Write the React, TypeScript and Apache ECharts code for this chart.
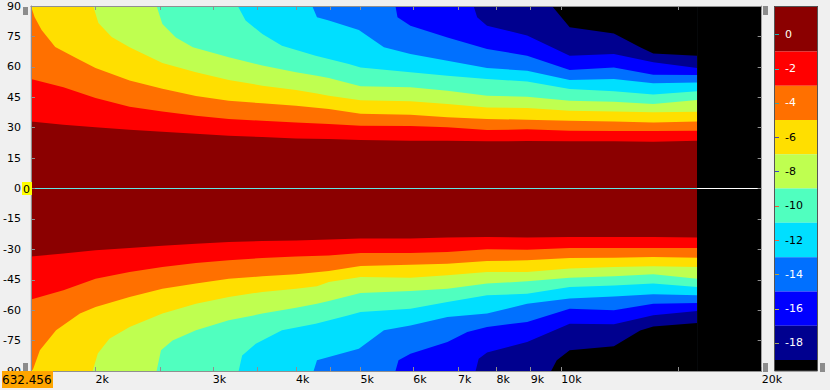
import React, { useEffect, useRef } from 'react';
import * as echarts from 'echarts';

const FONT = '"DejaVu Sans", sans-serif';

// frequency axis (Hz)
const freqMin = 1600;
const freqMax = 20000;
const dataFreqStart = 1600;
const dataFreqEnd = 16000;
const xLabelValues = [2000, 3000, 4000, 5000, 6000, 7000, 8000, 9000, 10000, 20000];
const xTickValues = [2000, 2500, 3000, 3500, 4000, 4500, 5000, 6000, 7000, 8000, 9000, 10000, 15000, 20000];

// colour scale (dB)
const levels = [0, -2, -4, -6, -8, -10, -12, -14, -16, -18];
const scaleTop = 1.65;
const scaleBottom = -19.64;

// contour edges: [frequency Hz, angle deg] (upper half)
const upperEdge2 = [[1600, 33.1], [1790, 31.5], [2000, 30.2], [2250, 29.0], [2520, 28.0], [2830, 27.0], [3170, 26.0], [3560, 25.4], [4000, 24.7], [4480, 24.4], [5000, 23.9], [5940, 23.6], [6750, 23.6], [7740, 23.3], [8890, 23.4], [10300, 23.3], [12000, 23.3], [13750, 23.1], [16000, 23.6]];
const upperEdge4 = [[1600, 54.0], [1790, 49.9], [2000, 44.6], [2250, 40.3], [2520, 38.0], [2830, 35.9], [3170, 34.3], [3560, 33.4], [4000, 32.6], [4480, 31.8], [5000, 31.0], [5940, 30.8], [6750, 30.2], [7740, 28.8], [8890, 29.2], [10300, 28.5], [12000, 28.4], [13750, 28.4], [16000, 28.5]];
const upperEdge6 = [[1600, 90], [1620, 84.6], [1660, 78.2], [1740, 69.8], [1870, 64.4], [2000, 59.4], [2250, 53.3], [2520, 49.2], [2830, 45.6], [3170, 43.3], [3560, 42.0], [4000, 40.8], [4480, 39.2], [5000, 36.9], [5940, 36.4], [6750, 35.1], [7740, 34.3], [8890, 33.9], [10300, 33.4], [12000, 33.0], [13750, 32.6], [16000, 33.1]];
const upperEdge8 = [[1984, 90], [2020, 81.6], [2115, 74.7], [2250, 69.6], [2520, 61.9], [2830, 57.3], [3170, 53.5], [3560, 50.7], [4000, 48.6], [4300, 46.9], [4480, 45.8], [5000, 43.5], [5940, 43.0], [6750, 41.7], [7740, 40.0], [8890, 39.7], [10300, 38.4], [12000, 38.0], [13750, 37.6], [16000, 37.9]];
const upperEdge10 = [[2470, 90], [2520, 81.1], [2640, 74.5], [2800, 69.6], [3170, 64.7], [3560, 60.6], [4000, 57.3], [4300, 55.6], [4480, 54.5], [5000, 50.4], [5940, 49.9], [6750, 48.2], [7740, 45.8], [8890, 45.3], [10300, 43.3], [12000, 42.8], [13750, 41.7], [16000, 43.6]];
const upperEdge12 = [[3270, 90], [3360, 82.8], [3560, 76.2], [3810, 70.4], [4280, 65.5], [4800, 61.4], [5000, 59.7], [5940, 57.3], [6750, 55.6], [7740, 54.0], [8890, 52.8], [10300, 49.1], [12000, 47.9], [13750, 46.3], [16000, 47.9]];
const upperEdge14 = [[4230, 90], [4300, 84.4], [4480, 82.8], [4970, 78.2], [5420, 69.6], [5940, 66.3], [6750, 63.0], [7740, 59.4], [8890, 58.1], [10300, 53.5], [12000, 54.0], [13750, 51.9], [16000, 52.3]];
const upperEdge16 = [[5640, 90], [5680, 84.4], [5940, 80.3], [6750, 74.5], [7740, 68.8], [8890, 65.5], [10300, 58.4], [12000, 59.7], [13750, 56.1], [16000, 56.0]];
const upperEdge18 = [[7390, 90], [7480, 84.4], [7740, 80.3], [8890, 75.4], [10300, 65.5], [12000, 66.3], [13750, 62.2], [16000, 59.4]];
const upperEdge20 = [[9690, 90], [10300, 79.5], [12000, 76.5], [13140, 69.6], [13750, 66.6], [16000, 65.5]];

// contour edges (lower half)
const lowerEdge2 = [[1600, -33.5], [1790, -32.1], [2000, -30.5], [2250, -29.3], [2520, -28.2], [2830, -27.2], [3170, -26.4], [3560, -25.9], [4000, -25.6], [4480, -25.2], [5000, -24.7], [5940, -24.7], [6750, -24.2], [7740, -23.9], [8890, -24.2], [10300, -23.9], [12000, -23.9], [13750, -23.9], [16000, -24.2]];
const lowerEdge4 = [[1600, -54.8], [1790, -50.2], [2000, -44.5], [2250, -41.2], [2520, -38.7], [2830, -36.7], [3170, -35.4], [3560, -34.3], [4000, -33.5], [4480, -33.0], [5000, -31.8], [5940, -31.8], [6750, -31.3], [7740, -30.0], [8890, -30.2], [10300, -29.3], [12000, -29.3], [13750, -29.3], [16000, -29.3]];
const lowerEdge6 = [[1600, -90], [1611, -89.3], [1650, -79.8], [1745, -69.9], [1895, -61.7], [2000, -58.4], [2250, -53.5], [2520, -49.4], [2830, -46.9], [3170, -44.5], [3560, -43.3], [4000, -42.3], [4480, -40.7], [5000, -38.2], [5940, -37.6], [6750, -37.1], [7740, -35.8], [8890, -35.4], [10300, -34.3], [12000, -34.1], [13750, -33.8], [16000, -34.1]];
const lowerEdge8 = [[1980, -90], [2016, -81.4], [2098, -74.1], [2250, -68.3], [2520, -61.7], [2830, -56.8], [3170, -53.5], [3560, -51.0], [4000, -49.4], [4300, -48.2], [4480, -46.1], [5000, -43.6], [5940, -44.0], [6750, -42.8], [7740, -41.2], [8890, -41.2], [10300, -39.5], [12000, -38.7], [13750, -38.4], [16000, -38.7]];
const lowerEdge10 = [[2470, -90], [2508, -79.8], [2610, -74.9], [2830, -69.9], [3170, -65.0], [3560, -61.7], [4000, -58.8], [4300, -56.8], [4480, -55.5], [5000, -51.5], [5940, -50.5], [6750, -49.4], [7740, -46.9], [8890, -45.8], [10300, -44.0], [12000, -43.3], [13750, -42.3], [16000, -44.5]];
const lowerEdge12 = [[3280, -90], [3320, -82.3], [3480, -76.5], [3810, -69.9], [4280, -66.7], [4800, -62.5], [5000, -60.9], [5940, -59.3], [6750, -56.0], [7740, -52.7], [8890, -51.9], [10300, -48.6], [12000, -47.8], [13750, -46.9], [16000, -48.6]];
const lowerEdge14 = [[4250, -90], [4300, -84.7], [4970, -79.0], [5420, -69.9], [5940, -67.5], [6750, -63.4], [7740, -61.7], [8890, -56.8], [10300, -54.3], [12000, -53.2], [13750, -52.2], [16000, -52.7]];
const lowerEdge16 = [[5640, -90], [5700, -84.7], [5940, -81.5], [6750, -75.7], [7230, -70.8], [7740, -68.3], [8890, -65.8], [10300, -59.3], [12000, -60.1], [13750, -56.8], [16000, -56.5]];
const lowerEdge18 = [[7440, -90], [7520, -83.9], [7740, -80.9], [8890, -75.7], [10300, -66.7], [12000, -67.0], [13750, -62.5], [16000, -60.4]];
const lowerEdge20 = [[9660, -90], [9850, -84.7], [10300, -79.8], [12000, -77.8], [13140, -70.0], [13750, -68.0], [16000, -66.3]];

const upperEdges = [upperEdge2, upperEdge4, upperEdge6, upperEdge8, upperEdge10, upperEdge12, upperEdge14, upperEdge16, upperEdge18, upperEdge20];
const lowerEdges = [lowerEdge2, lowerEdge4, lowerEdge6, lowerEdge8, lowerEdge10, lowerEdge12, lowerEdge14, lowerEdge16, lowerEdge18, lowerEdge20];

const bandColors = ['#8b0000', '#ff0000', '#ff7000', '#ffdf00', '#bfff50', '#50ffbf', '#00dfff', '#0070ff', '#0000ff', '#00008f', '#000000'];
const tickColors = ['#20b0b0', '#20c0c0', '#40a0a0', '#4848b0', '#4040d0', '#ff5030', '#ff6030', '#c0a030', '#c0c040', '#a0a060'];
const labelColors = ['#fffff0', '#ffffff', '#ffffff', '#000000', '#000000', '#000000', '#000000', '#ffffff', '#ffffff', '#ffffff'];

const AXIS_GRAY = '#909090';

export default function App() {
  const ref = useRef<HTMLDivElement>(null);

  useEffect(() => {
    document.body.style.margin = '0';
    document.body.style.background = '#f0f0f0';
    const chart = echarts.init(ref.current as HTMLDivElement, undefined, { renderer: 'svg' });

    // each layer: an edge line filled up (to +90) or down (to -90)
    const layers: { edge: number[][]; to: number; color: string }[] = [];
    layers.push({ edge: [[dataFreqStart, -90], [dataFreqEnd, -90]], to: 90, color: bandColors[0] });
    for (let k = 0; k < upperEdges.length; k++) {
      layers.push({ edge: upperEdges[k], to: 90, color: bandColors[k + 1] });
      layers.push({ edge: lowerEdges[k], to: -90, color: bandColors[k + 1] });
    }
    // region without data
    layers.push({ edge: [[dataFreqEnd, -90], [freqMax, -90]], to: 90, color: '#000000' });

    const series: any[] = [];
    series.push({
      type: 'custom',
      xAxisIndex: 0,
      yAxisIndex: 0,
      silent: true,
      clip: true,
      z: 2,
      encode: { x: 0, y: 1 },
      data: layers.map((l) => [l.edge[0][0], l.edge[0][1]]),
      renderItem: (params: any, api: any) => {
        const layer = layers[params.dataIndex];
        const pts = layer.edge.map((p) => api.coord(p));
        const f0 = layer.edge[0][0];
        const f1 = layer.edge[layer.edge.length - 1][0];
        pts.push(api.coord([f1, layer.to]));
        pts.push(api.coord([f0, layer.to]));
        return { type: 'polygon', shape: { points: pts }, style: { fill: layer.color, stroke: 'none', lineWidth: 0 } };
      },
    });

    series.push({
      type: 'line', xAxisIndex: 0, yAxisIndex: 0, symbol: 'none', silent: true,
      data: [[dataFreqStart, 0], [dataFreqEnd, 0]],
      lineStyle: { color: '#60e6e6', width: 1 }, z: 3,
    });
    series.push({
      type: 'line', xAxisIndex: 0, yAxisIndex: 0, symbol: 'none', silent: true,
      data: [[dataFreqEnd, 0], [freqMax, 0]],
      lineStyle: { color: '#ffffff', width: 1 }, z: 3,
    });

    const barData: number[][] = levels.map((l, i) => [i === 0 ? scaleTop : l + 1, l - 1]);
    barData.push([levels[levels.length - 1] - 1, scaleBottom]);

    series.push({
      type: 'custom',
      xAxisIndex: 2,
      yAxisIndex: 2,
      silent: true,
      data: barData,
      renderItem: (params: any, api: any) => {
        const i = params.dataIndex;
        const hi = api.value(0);
        const lo = api.value(1);
        const tl = api.coord([0, hi]);
        const br = api.coord([1, lo]);
        const children: any[] = [
          { type: 'rect', shape: { x: tl[0], y: tl[1], width: br[0] - tl[0], height: br[1] - tl[1] }, style: { fill: bandColors[i] } },
        ];
        if (i < levels.length) {
          const c = api.coord([0, levels[i]]);
          const yy = Math.round(c[1]) + 0.5;
          children.push({ type: 'line', shape: { x1: c[0] + 1, y1: yy, x2: c[0] + 5, y2: yy }, style: { stroke: tickColors[i], lineWidth: 1 } });
          children.push({
            type: 'text', x: c[0] + 11, y: c[1],
            style: { text: String(levels[i]), fill: labelColors[i], font: '11px ' + FONT, align: 'left', verticalAlign: 'middle' },
          });
        }
        return { type: 'group', children };
      },
    });

    const baseX = {
      type: 'log',
      logBase: 10,
      gridIndex: 0,
      min: freqMin,
      max: freqMax,
      z: 10,
      axisLine: { show: true, onZero: false, lineStyle: { color: AXIS_GRAY, width: 1 } },
      axisTick: { show: true, inside: true, length: 4, customValues: xTickValues, lineStyle: { color: AXIS_GRAY } },
      minorTick: { show: false },
      splitLine: { show: false },
      minorSplitLine: { show: false },
      splitArea: { show: false },
    };

    const option: any = {
      animation: false,
      backgroundColor: '#f0f0f0',
      grid: [
        { left: 30, right: 68.33, top: 6, bottom: 19, show: true, backgroundColor: '#000000', borderWidth: 0, borderColor: '#000000' },
        { left: 774, top: 6, width: 44, height: 365, show: false },
      ],
      xAxis: [
        {
          ...baseX,
          position: 'bottom',
          axisLabel: {
            show: true, customValues: xLabelValues, align: 'left', margin: 3,
            color: '#000', fontFamily: 'DejaVu Sans', fontSize: 11,
            formatter: (v: number) => Math.round(v / 1000) + 'k',
          },
        },
        {
          ...baseX,
          position: 'top',
          axisLabel: { show: false },
        },
        { type: 'value', gridIndex: 1, min: 0, max: 1, show: false },
      ],
      yAxis: [
        {
          type: 'value', gridIndex: 0, min: -90, max: 90, interval: 15, position: 'left', z: 10,
          axisLine: { show: true, onZero: false, lineStyle: { color: AXIS_GRAY, width: 1 } },
          axisTick: { show: true, inside: true, length: 4, lineStyle: { color: AXIS_GRAY } },
          axisLabel: { show: true, margin: 10, color: '#000', fontFamily: 'DejaVu Sans', fontSize: 11 },
          splitLine: { show: false },
        },
        {
          type: 'value', gridIndex: 0, min: -90, max: 90, interval: 15, position: 'right', z: 10,
          axisLine: { show: true, onZero: false, lineStyle: { color: '#a0a0a0', width: 1 } },
          axisTick: { show: true, inside: true, length: 4, lineStyle: { color: AXIS_GRAY } },
          axisLabel: { show: false },
          splitLine: { show: false },
        },
        { type: 'value', gridIndex: 1, min: scaleBottom, max: scaleTop, show: false },
      ],
      series,
      graphic: [
        { type: 'rect', z: 100, shape: { x: 774.5, y: 6.5, width: 43, height: 364.5 }, style: { fill: 'none', stroke: '#555555', lineWidth: 1 } },
        { type: 'rect', z: 100, shape: { x: 2, y: 371, width: 51, height: 17 }, style: { fill: '#ffa500' } },
        { type: 'text', z: 101, x: 2, y: 380, style: { text: '632.456', fill: '#000', font: '12px ' + FONT, verticalAlign: 'middle', align: 'left' } },
        { type: 'rect', z: 100, shape: { x: 22, y: 182, width: 10, height: 13 }, style: { fill: '#ffff00' } },
        { type: 'text', z: 101, x: 23, y: 189, style: { text: '0', fill: '#000', font: '11px ' + FONT, verticalAlign: 'middle', align: 'left' } },
        { type: 'rect', z: 100, shape: { x: 23, y: 7, width: 5, height: 8 }, style: { fill: '#8c8c8c' } },
        { type: 'rect', z: 100, shape: { x: 23, y: 363, width: 5, height: 8 }, style: { fill: '#8c8c8c' } },
        { type: 'rect', z: 100, shape: { x: 763, y: 6, width: 5, height: 9 }, style: { fill: '#8c8c8c' } },
        { type: 'rect', z: 100, shape: { x: 763, y: 363, width: 5, height: 9 }, style: { fill: '#8c8c8c' } },
        { type: 'rect', z: 100, shape: { x: 820, y: 363, width: 5, height: 9 }, style: { fill: '#8c8c8c' } },
      ],
    };

    chart.setOption(option);
    return () => {
      chart.dispose();
    };
  }, []);

  return (
    <div
      ref={ref}
      style={{ position: 'absolute', left: 0, top: 0, width: 830, height: 390, background: '#f0f0f0' }}
    />
  );
}
